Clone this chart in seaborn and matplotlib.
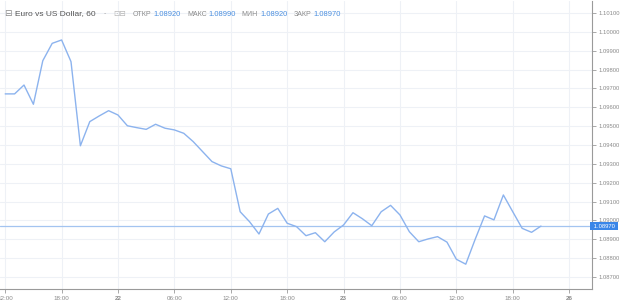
import matplotlib
matplotlib.use("Agg")
import matplotlib.pyplot as plt
import seaborn as sns
import pandas as pd
import numpy as np

# ---- data ----
hours = list(range(58))
prices = [1.09671, 1.09671, 1.09718, 1.09616, 1.09847, 1.09939, 1.09957, 1.09842,
          1.09396, 1.09524, 1.09554, 1.09582, 1.09559, 1.09502, 1.09492, 1.09483,
          1.09510, 1.09489, 1.09480, 1.09462, 1.09418, 1.09365, 1.09312, 1.09289,
          1.09274, 1.09046, 1.08993, 1.08928, 1.09034, 1.09064, 1.08985, 1.08967,
          1.08919, 1.08935, 1.08887, 1.08939, 1.08976, 1.09041, 1.09009, 1.08972,
          1.09046, 1.09080, 1.09029, 1.08940, 1.08887, 1.08902, 1.08914, 1.08885,
          1.08794, 1.08768, 1.08900, 1.09024, 1.09003, 1.09135, 1.09046, 1.08958,
          1.08937, 1.08970]
tick_hours = [0, 6, 12, 18, 24, 30, 36, 42, 48, 54, 60]
tick_labels = ["12:00", "18:00", "22", "06:00", "12:00", "18:00", "23", "06:00", "12:00", "18:00", "26"]
day_labels = {"22", "23", "26"}
ytick_values = [1.087, 1.088, 1.089, 1.090, 1.091, 1.092, 1.093, 1.094, 1.095,
                1.096, 1.097, 1.098, 1.099, 1.100, 1.101]
last_price = 1.08970
title = "Euro vs US Dollar, 60"
ohlc_names = ["ОТКР", "МАКС", "МИН", "ЗАКР"]
ohlc_values = ["1.08920", "1.08990", "1.08920", "1.08970"]

df = pd.DataFrame({"hour": hours, "price": prices})

sns.set_theme(style="white")
plt.rcParams["font.family"] = ["Liberation Sans", "DejaVu Sans"]

W, H = 620, 301
fig = plt.figure(figsize=(W / 100, H / 100), dpi=100)
ax = fig.add_axes([0, 12 / H, 592 / W, 288 / H])

ax.grid(True, color="#eef1f6", linewidth=0.8)
ax.set_axisbelow(True)
ax.axhline(last_price, color="#a3c4f0", linewidth=0.9, zorder=1)
sns.lineplot(data=df, x="hour", y="price", ax=ax, color="#8cb3ee", linewidth=1.0, zorder=3)

ax.set_xlim(-0.553, 62.43)
ax.set_ylim(1.086364, 1.101636)
ax.set_xlabel("")
ax.set_ylabel("")

ax.set_xticks(tick_hours)
ax.set_xticklabels(tick_labels)
for lab in ax.get_xticklabels():
    if lab.get_text() in day_labels:
        lab.set_fontweight("bold")
        lab.set_color("#666666")
ax.set_yticks(ytick_values)
ax.set_yticklabels([f"{v:.5f}" for v in ytick_values])
ax.yaxis.tick_right()
ax.tick_params(axis="y", which="both", right=True, left=False, length=3, width=0.6,
               color="#9a9a9a", labelsize=4.2, labelcolor="#8a8a8a", pad=1.5)
ax.tick_params(axis="x", which="both", bottom=True, length=3, width=0.6,
               color="#9a9a9a", labelsize=4.5, labelcolor="#8a8a8a", pad=2)

for s in ["top", "left"]:
    ax.spines[s].set_visible(False)
for s in ["right", "bottom"]:
    ax.spines[s].set_visible(True)
    ax.spines[s].set_color("#9a9a9a")
    ax.spines[s].set_linewidth(0.8)

ax.text(1.0, last_price, " 1.08970 ", transform=ax.get_yaxis_transform(), ha="left",
        va="center", color="white", fontsize=4.2, clip_on=False, zorder=10,
        bbox=dict(boxstyle="square,pad=0.3", fc="#3a86e8", ec="none"))

# header
def fx(x):
    return x / W

def fy(y):
    return 1 - y / H

fig.text(fx(4), fy(14), "⊟", fontsize=6.5, color="#8a8a8a", va="center", ha="left",
         family="DejaVu Sans")
fig.text(fx(15), fy(14), title, fontsize=6, color="#555555", va="center", ha="left")
fig.text(fx(104), fy(14), "-", fontsize=5, color="#aaaaaa", va="center", ha="left")
fig.text(fx(113), fy(14), "⊡⊟", fontsize=5.5, color="#b8b8b8", va="center", ha="left",
         family="DejaVu Sans")

renderer = fig.canvas.get_renderer()
x = 133
for n, v in zip(ohlc_names, ohlc_values):
    t = fig.text(fx(x), fy(14), n, fontsize=5.0, color="#8a8a8a", va="center", ha="left")
    w = t.get_window_extent(renderer).width
    x = x + w + 2
    t2 = fig.text(fx(x), fy(14), v, fontsize=5.4, color="#4a8fe0", va="center", ha="left")
    w2 = t2.get_window_extent(renderer).width
    x = x + w2 + 6

fig.savefig("out.png", dpi=100, facecolor="white")
